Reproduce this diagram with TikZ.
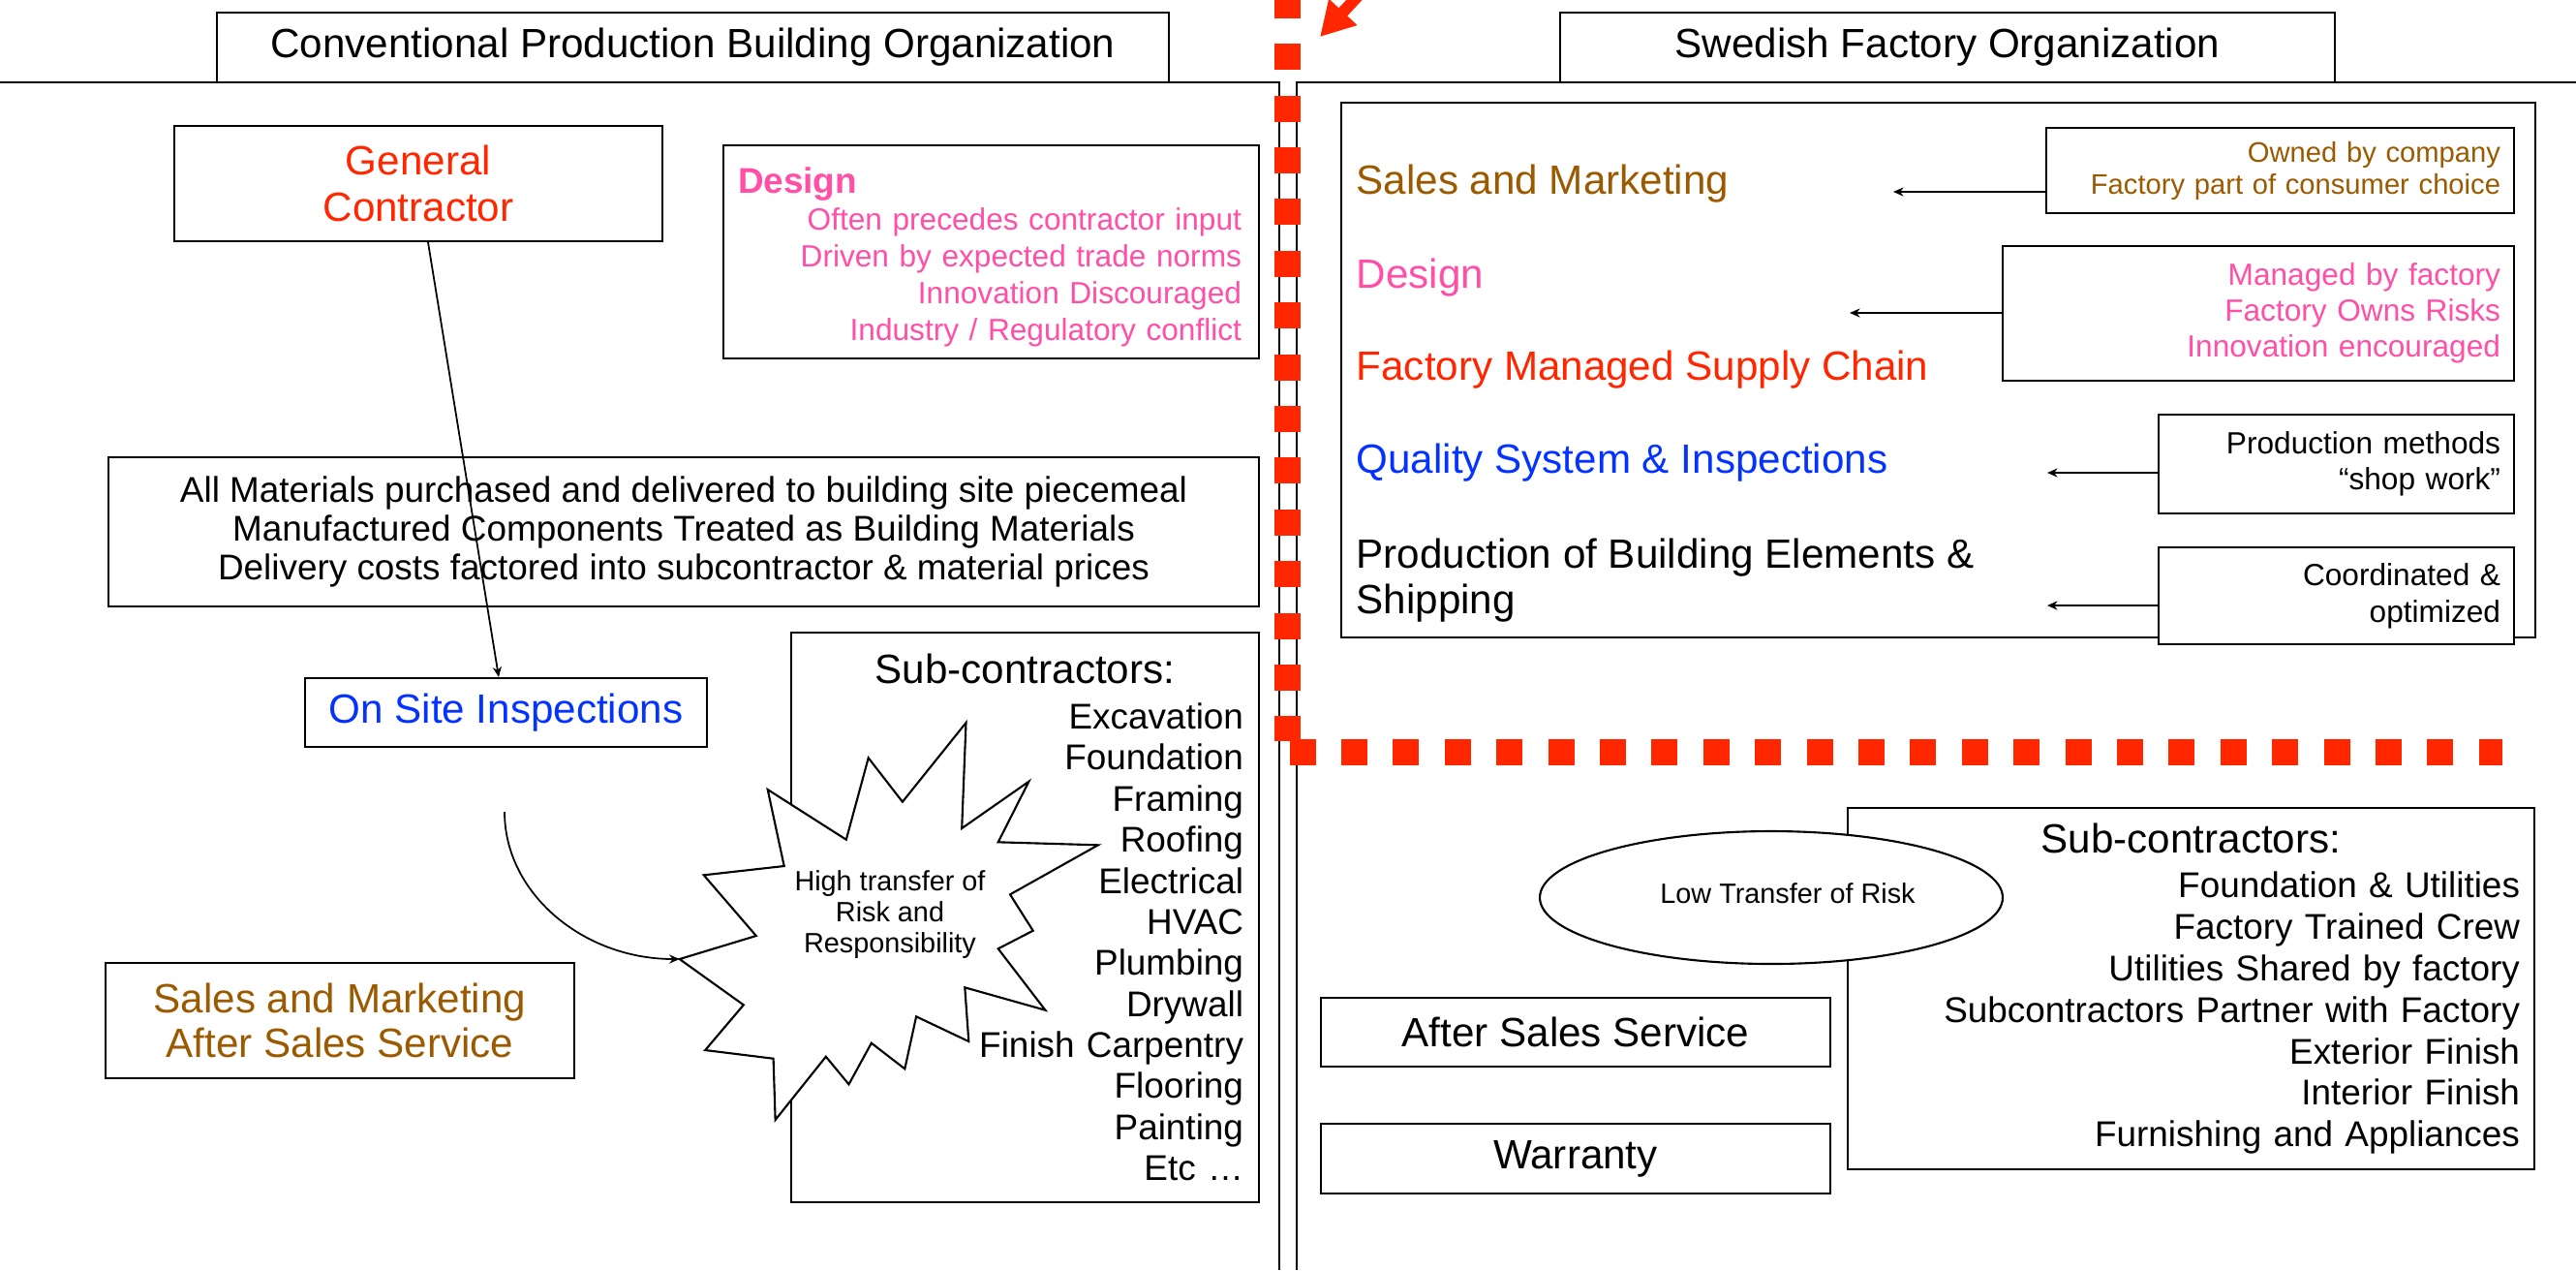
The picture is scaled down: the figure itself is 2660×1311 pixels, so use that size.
\documentclass[tikz,border=0pt]{standalone}
\usepackage{fontspec}
\setmainfont{Liberation Sans}
\usepackage{xcolor}
\usetikzlibrary{arrows.meta, shapes.geometric}

\definecolor{gcred}{HTML}{FF2600}
\definecolor{designpink}{HTML}{FF4FA6}
\definecolor{salesbrown}{HTML}{9C5A00}
\definecolor{inspblue}{HTML}{0433FF}

\begin{document}
\begin{tikzpicture}[
        x=0.1mm, y=-0.1mm,
        box/.style={rectangle, draw, line width=0.6pt, fill=white, inner sep=0pt},
        note/.style={box, align=right, inner xsep=1.4mm},
        caption/.style={anchor=west, inner sep=0pt, font=\fontsize{12}{13.5}\selectfont},
        burst/.style={draw, fill=white, line width=0.6pt},
        arrow/.style={line width=0.5pt, -{Stealth[length=3pt, width=2.6pt]}},
        border/.style={line width=0.75pt},
        divide/.style={gcred, line width=2.7mm, dash pattern=on 2.7mm off 2.64mm}
    ]
        \useasboundingbox (0,0) rectangle (2660,1311);

        % Frame
        \draw[border] (0,85) -- (1321,85) -- (1321,1311);
        \draw[border] (2660,85) -- (1339,85) -- (1339,1311);

        % Titles
        \node[box, minimum width=98.3mm, minimum height=7.2mm, font=\fontsize{12}{14}\selectfont] (convTitle) at (715.5,49) {Conventional Production Building Organization};
        \node[box, minimum width=80mm, minimum height=7.2mm, font=\fontsize{12}{14}\selectfont] (swedTitle) at (2011,49) {Swedish Factory Organization};

        % Conventional side
        \node[box, minimum width=50.4mm, minimum height=11.9mm, align=center, text=gcred, font=\fontsize{12}{13.5}\selectfont] (gc) at (432,189.5) {General\\Contractor};
        \node[box, minimum width=55.3mm, minimum height=22mm] (designL) at (1023.5,260) {};
        \node[align=right, text width=52mm, inner sep=0pt, text=designpink, font=\fontsize{9}{10.8}\selectfont] (designText) at (1022,265) {{\fontsize{10.5}{12}\selectfont\bfseries Design}\hfill\null\\ Often precedes contractor input\\ Driven by expected trade norms\\ Innovation Discouraged\\ Industry / Regulatory conflict};
        \node[box, minimum width=118.8mm, minimum height=15.4mm, align=center, font=\fontsize{10.5}{11.4}\selectfont] (materials) at (706,549) {All Materials purchased and delivered to building site piecemeal\\Manufactured Components Treated as Building Materials\\Delivery costs factored into subcontractor \& material prices};
        \node[box, minimum width=41.5mm, minimum height=7.1mm, text=inspblue, font=\fontsize{12}{14}\selectfont] (onsite) at (522.5,735.5) {On Site Inspections};
        \node[box, minimum width=48.4mm, minimum height=11.9mm, align=center, text=salesbrown, font=\fontsize{12}{13.1}\selectfont] (salesL) at (351,1053.5) {Sales and Marketing\\After Sales Service};
        \node[note, text width=45.1mm, inner xsep=1.6mm, minimum height=58.8mm, font=\fontsize{10.5}{12.06}\selectfont] (subL) at (1058.5,947) {\hfill{\fontsize{12}{13.5}\selectfont Sub-contractors:}\hfill\null\\[1.3pt] Excavation\\ Foundation\\ Framing\\ Roofing\\ Electrical\\ HVAC\\ Plumbing\\ Drywall\\ Finish Carpentry\\ Flooring\\ Painting\\ Etc …};

        % Risk burst
        \draw[burst] (701.7,990) coordinate (starTip) -- (780.8,966) -- (726.7,903.3) -- (809.7,894)
            -- (792.7,815) -- (873.8,866.7) -- (896.7,782.3) -- (931.9,827.7) -- (997.5,746)
            -- (993.2,855) -- (1062.4,806.7) -- (1030.7,869.3) -- (1133.9,872.3) -- (1043,923.3)
            -- (1066.7,960.7) -- (1030.7,979.3) -- (1079.4,1042.7) -- (996.3,1019.3) -- (1000.3,1075)
            -- (946.1,1049.3) -- (934.3,1103.3) -- (899.8,1076.7) -- (876.5,1119.3) -- (852.8,1090.7)
            -- (800.6,1156) -- (798.6,1092.7) -- (728.2,1084) -- (767.8,1037.3) -- cycle;
        \node[align=center, font=\fontsize{8.2}{9.1}\selectfont] (risk) at (919,944) {High transfer of\\Risk and\\Responsibility};

        % Factory side
        \node[box, minimum width=123.3mm, minimum height=55.2mm] (factory) at (2001.5,382) {};
        \node[caption, text=salesbrown] (sales) at (1400,190) {Sales and Marketing};
        \node[caption, text=designpink] (design) at (1400,287) {Design};
        \node[caption, text=gcred] (supply) at (1400,382) {Factory Managed Supply Chain};
        \node[caption, text=inspblue] (quality) at (1400,478) {Quality System \& Inspections};
        \node[caption, align=left] (production) at (1400,599) {Production of Building Elements \&\\Shipping};

        \node[note, text width=45.5mm, minimum height=8.8mm, text=salesbrown, font=\fontsize{8.3}{9.4}\selectfont] (owned) at (2354.5,176) {Owned by company\\Factory part of consumer choice};
        \node[note, text width=50mm, minimum height=13.9mm, text=designpink, font=\fontsize{9}{10.6}\selectfont] (managed) at (2332,323.5) {Managed by factory\\Factory Owns Risks\\Innovation encouraged};
        \node[note, text width=33.9mm, minimum height=10.2mm, font=\fontsize{9}{10.4}\selectfont] (methods) at (2412.5,479) {Production methods\\``shop work''};
        \node[note, text width=33.9mm, minimum height=10mm, font=\fontsize{9}{10.9}\selectfont] (coordinated) at (2412.5,615) {Coordinated \&\\optimized};

        \node[note, text width=67.9mm, inner xsep=1.5mm, minimum height=37.3mm, font=\fontsize{10.5}{12.2}\selectfont] (subR) at (2262.5,1020.5) {\hfill{\fontsize{12}{13.5}\selectfont Sub-contractors:}\hfill\null\\[1pt] Foundation \& Utilities\\ Factory Trained Crew\\ Utilities Shared by factory\\ Subcontractors Partner with Factory\\ Exterior Finish\\ Interior Finish\\ Furnishing and Appliances};
        \node[ellipse, draw, fill=white, line width=0.6pt, minimum width=47.8mm, minimum height=13.7mm, inner sep=0pt] (lowRisk) at (1829,926.5) {};
        \node[font=\fontsize{8.2}{9.1}\selectfont] (lowRiskText) at (1846,922) {Low Transfer of Risk};
        \node[box, minimum width=52.6mm, minimum height=7.1mm, font=\fontsize{12}{14}\selectfont] (afterSales) at (1627,1065.5) {After Sales Service};
        \node[box, minimum width=52.6mm, minimum height=7.2mm, font=\fontsize{12}{14}\selectfont] (warranty) at (1627,1196) {Warranty};

        % Arrows
        \draw[arrow] ([xshift=1mm]gc.south) -- ([xshift=-0.75mm]onsite.north);
        \coordinate (curveStart) at (521,838);
        \draw[arrow] (curveStart) .. controls (521,922) and (602,990) .. (starTip);

        \coordinate (toSales) at (1955,198);
        \coordinate (toDesign) at (1910,323);
        \coordinate (toQuality) at (2114,488);
        \coordinate (toProduction) at (2114,625);
        \draw[arrow] (owned.west |- toSales) -- (toSales);
        \draw[arrow] (managed.west |- toDesign) -- (toDesign);
        \draw[arrow] (methods.west |- toQuality) -- (toQuality);
        \draw[arrow] (coordinated.west |- toProduction) -- (toProduction);

        % Red dividers
        \coordinate (divTop) at (1329.5,0);
        \coordinate (divCorner) at (1329.5,765);
        \coordinate (divLeft) at (1331.6,776);
        \coordinate (divRight) at (2584,776);
        \draw[divide, dash phase=0.83mm] (divTop) -- (divCorner);
        \draw[divide] (divLeft) -- (divRight);

        \coordinate (pointerTail) at (1416,-19);
        \coordinate (pointerTip) at (1363,38);
        \draw[gcred, line width=1.2mm, -{Triangle[length=3.5mm, width=3.75mm]}] (pointerTail) -- (pointerTip);
    \end{tikzpicture}
\end{document}
